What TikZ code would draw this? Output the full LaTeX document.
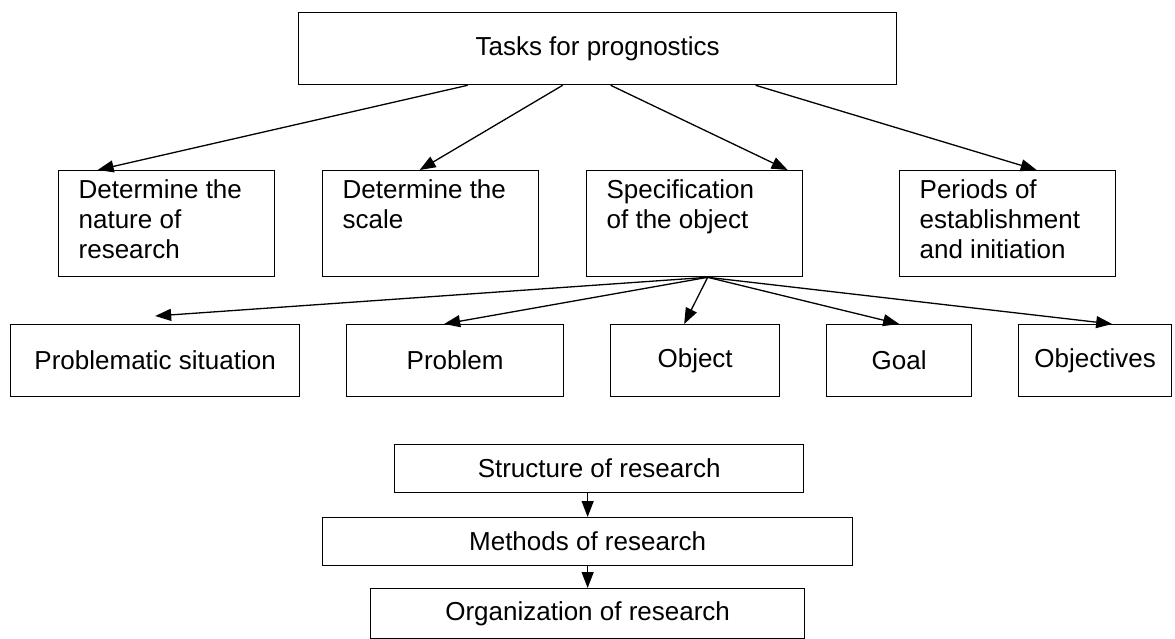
\documentclass[tikz,border=0pt]{standalone}
\usepackage{fontspec}
\setmainfont{Liberation Sans}
\usetikzlibrary{arrows.meta}
% top-aligned, left-aligned text block for the tall boxes
\newcommand\cellpar[1]{\parbox[c][88pt][t]{176pt}{\raggedright #1}}
\begin{document}
\begin{tikzpicture}[x=1pt,y=-1pt,
  box/.style={draw, line width=1.3pt, inner sep=0pt, anchor=north west,
              font=\fontsize{26}{30}\selectfont},
  tallbox/.style={box, inner xsep=20pt, inner ysep=9pt,
              minimum width=216pt, minimum height=106pt},
  rowbox/.style={box, minimum height=72pt},
  chainbox/.style={box, minimum height=48pt},
  arr/.style={-{Triangle[length=16pt,width=12pt]}, line width=1.3pt}]
\useasboundingbox (0,0) rectangle (1175,639);
\fill[white] (0,0) rectangle (1175,639);

% root
\node[box, minimum width=598pt, minimum height=72pt] (tasks) at (298,12) {Tasks for prognostics};

% second level
\node[tallbox] (nature)  at (58,170)  {\cellpar{Determine the\\nature of\\research}};
\node[tallbox] (scale)   at (322,170) {\cellpar{Determine the\\scale}};
\node[tallbox] (spec)    at (586,170) {\cellpar{Specification\\of the object}};
\node[tallbox] (periods) at (899,170) {\cellpar{Periods of\\establishment\\and initiation}};

% third level
\node[rowbox, minimum width=289pt] (probsit) at (10,324)   {Problematic situation};
\node[rowbox, minimum width=217pt] (problem) at (346,324)  {Problem};
\node[rowbox, minimum width=169pt] (object)  at (610,324)  {Object};
\node[rowbox, minimum width=145pt] (goal)    at (826,324)  {Goal};
\node[rowbox, minimum width=153pt] (objs)    at (1018,324) {Objectives};

% chain at the bottom
\node[chainbox, minimum width=409pt] (struct)  at (394,444) {Structure of research};
\node[chainbox, minimum width=530pt] (methods) at (322,517) {Methods of research};
\node[chainbox, minimum width=434pt, minimum height=50pt] (organiz) at (370,588) {Organization of research};

% root to second level
\draw[arr] ([xshift=-130pt]tasks.south) -- ([xshift=-69pt]nature.north);
\draw[arr] ([xshift=-35pt]tasks.south)  -- ([xshift=-11pt]scale.north);
\draw[arr] ([xshift=13pt]tasks.south)   -- ([xshift=93pt]spec.north);
\draw[arr] ([xshift=158pt]tasks.south)  -- ([xshift=29pt]periods.north);

% specification to third level
\draw[arr] ([xshift=13pt]spec.south) -- ([yshift=8pt]probsit.north);
\draw[arr] ([xshift=13pt]spec.south) -- ([xshift=-11pt]problem.north);
\draw[arr] ([xshift=13pt]spec.south) -- ([xshift=-11pt]object.north);
\draw[arr] ([xshift=13pt]spec.south) -- (goal.north);
\draw[arr] ([xshift=13pt]spec.south) -- ([xshift=17pt]objs.north);

% chain
\draw[arr] ([xshift=-11.5pt]struct.south) -- (methods.north);
\draw[arr] (methods.south) -- (organiz.north);
\end{tikzpicture}
\end{document}
